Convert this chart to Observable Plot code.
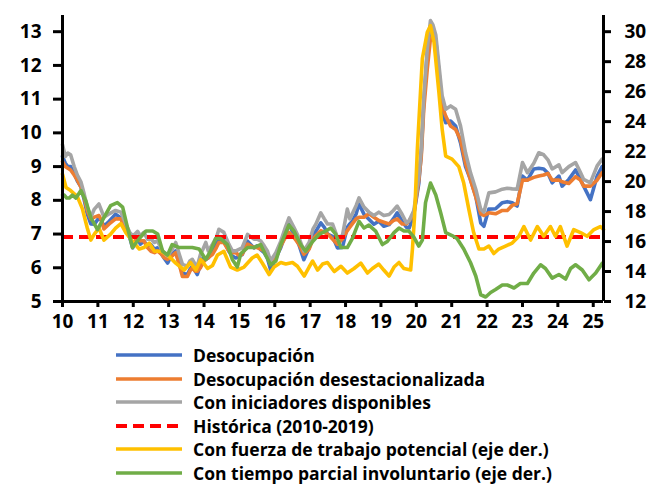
<!DOCTYPE html>
<html><head><meta charset="utf-8">
<script src="https://cdn.jsdelivr.net/npm/d3@7"></script>
<script src="https://cdn.jsdelivr.net/npm/@observablehq/plot@0.6"></script>
<style>
html,body{margin:0;padding:0;background:#fff;}
body{width:653px;height:484px;overflow:hidden;font-family:"Open Sans",sans-serif;}
#legend{position:relative;width:653px;height:149px;}
.row{position:absolute;left:116px;display:flex;align-items:center;height:24px;}
.row svg{display:block;margin-right:11px;}
.row span{font-weight:700;color:#000;white-space:nowrap;}
</style></head><body>
<div id="chart"></div>
<div id="legend"></div>
<script>
// ---- Data (decimal years: 10 = 2010) ----
const fechasDesoc = [10.0,10.08,10.15,10.23,10.33,10.42,10.52,10.61,10.7,10.8,10.9,11.03,11.1,11.17,11.32,11.5,11.65,11.79,11.9,11.98,12.05,12.12,12.2,12.3,12.4,12.5,12.6,12.68,12.8,12.87,12.97,13.1,13.2,13.3,13.39,13.53,13.6,13.67,13.75,13.81,13.9,13.97,14.05,14.12,14.24,14.35,14.42,14.56,14.7,14.8,14.9,15.0,15.08,15.23,15.41,15.5,15.6,15.7,15.79,15.88,16.03,16.17,16.3,16.4,16.54,16.68,16.82,16.97,17.08,17.16,17.3,17.4,17.49,17.63,17.77,17.91,18.05,18.12,18.19,18.3,18.38,18.52,18.66,18.8,18.94,19.08,19.23,19.35,19.46,19.6,19.72,19.8,19.93,20.07,20.14,20.21,20.31,20.4,20.47,20.55,20.64,20.73,20.83,20.97,21.11,21.25,21.39,21.53,21.68,21.82,21.91,22.05,22.24,22.43,22.57,22.71,22.85,23.0,23.14,23.32,23.46,23.6,23.72,23.84,24.03,24.12,24.31,24.5,24.64,24.73,24.92,25.11,25.25];
const desocupacion = [9.3,9.1,9.0,9.0,8.8,8.57,8.4,8.03,7.6,7.3,7.29,7.48,7.4,7.23,7.38,7.59,7.48,7.14,6.9,6.59,6.75,6.88,6.7,6.79,6.65,6.69,6.55,6.59,6.4,6.29,6.14,6.4,6.5,6.1,5.84,5.8,5.95,6.04,5.9,5.8,6.1,6.29,6.25,6.29,6.49,6.7,6.84,6.8,6.49,6.35,6.29,6.35,6.39,6.79,6.59,6.65,6.54,6.45,6.29,5.95,6.29,6.6,7.0,7.29,6.99,6.69,6.24,6.59,6.95,7.08,7.33,7.2,7.0,6.93,6.59,6.6,7.2,7.3,7.38,7.6,7.89,7.59,7.44,7.29,7.38,7.23,7.28,7.45,7.63,7.38,7.2,7.18,7.59,8.5,9.4,10.9,12.4,13.18,13.0,12.75,11.8,10.6,10.3,10.35,10.2,9.7,9.0,8.62,8.12,7.33,7.23,7.74,7.75,7.93,7.96,7.93,7.83,8.72,8.6,8.93,8.95,8.93,8.8,8.52,8.72,8.42,8.62,8.9,8.62,8.42,8.02,8.72,9.0];
const desestacionalizada = [9.15,9.0,8.95,8.9,8.75,8.6,8.4,8.1,7.7,7.45,7.5,7.55,7.4,7.15,7.3,7.45,7.45,7.1,6.95,6.7,6.8,6.85,6.8,6.8,6.6,6.49,6.45,6.5,6.4,6.3,6.25,6.35,6.45,6.1,5.74,5.74,5.9,6.0,5.9,5.9,6.0,6.15,6.25,6.3,6.4,6.6,6.75,6.75,6.5,6.45,6.45,6.35,6.4,6.7,6.6,6.6,6.55,6.5,6.35,6.1,6.3,6.65,6.9,7.05,6.9,6.7,6.4,6.55,6.85,6.95,7.1,7.05,7.0,6.85,6.7,6.85,7.1,7.2,7.3,7.45,7.5,7.5,7.6,7.5,7.4,7.35,7.3,7.4,7.45,7.3,7.3,7.4,7.6,8.6,9.3,10.7,11.9,12.8,12.85,12.6,11.8,10.8,10.5,10.2,10.1,9.8,9.1,8.6,8.1,7.6,7.55,7.63,7.6,7.7,7.7,7.85,7.9,8.6,8.6,8.68,8.72,8.75,8.8,8.6,8.6,8.55,8.5,8.7,8.6,8.42,8.42,8.6,8.82];
const iniciadores = [9.65,9.3,9.4,9.35,9.0,8.75,8.55,8.2,7.8,7.5,7.74,7.89,7.7,7.5,7.6,7.7,7.65,7.3,7.05,6.95,7.0,7.08,6.95,7.05,6.85,6.85,6.75,6.8,6.55,6.45,6.35,6.55,6.75,6.4,6.1,6.05,6.2,6.25,6.1,6.05,6.4,6.55,6.75,6.5,6.7,6.9,7.14,7.05,6.7,6.5,6.5,6.55,6.6,6.99,6.85,6.85,6.8,6.65,6.5,6.2,6.45,6.79,7.2,7.48,7.2,6.9,6.5,6.75,7.15,7.29,7.63,7.45,7.3,7.3,6.9,6.95,7.74,7.45,7.6,7.85,8.07,7.8,7.65,7.55,7.65,7.55,7.58,7.7,7.83,7.58,7.33,7.4,7.7,8.72,9.5,11.0,12.5,13.33,13.2,12.9,12.0,11.1,10.7,10.8,10.7,10.2,9.41,8.82,8.33,7.74,7.65,8.22,8.25,8.33,8.36,8.34,8.33,9.12,8.82,9.1,9.41,9.35,9.2,8.93,9.05,8.82,9.0,9.12,8.82,8.62,8.52,9.02,9.22];
const historica = 6.91;

const fechasPotencial = [10.0,10.1,10.23,10.42,10.56,10.7,10.8,10.9,11.03,11.17,11.36,11.5,11.65,11.79,11.98,12.17,12.3,12.45,12.6,12.78,12.97,13.2,13.44,13.62,13.77,13.91,14.1,14.24,14.38,14.56,14.75,14.94,15.13,15.36,15.5,15.65,15.84,15.98,16.17,16.31,16.5,16.64,16.83,16.97,17.07,17.21,17.35,17.49,17.68,17.87,18.05,18.24,18.43,18.62,18.76,18.94,19.08,19.23,19.37,19.51,19.65,19.84,19.89,19.95,20.03,20.17,20.31,20.4,20.5,20.64,20.73,20.83,21.01,21.2,21.34,21.48,21.62,21.77,21.91,22.05,22.19,22.33,22.52,22.71,22.9,23.04,23.23,23.42,23.6,23.79,23.93,24.07,24.26,24.45,24.64,24.83,25.02,25.2,25.29];
const potencial = [20.5,19.6,19.4,19.0,18.2,16.9,16.1,16.5,16.9,16.1,16.5,16.9,17.2,16.6,16.0,15.5,15.6,15.9,15.35,15.35,15.1,14.56,14.1,14.6,14.1,14.8,14.2,14.4,15.1,15.35,14.3,14.1,14.3,14.9,15.1,14.55,13.8,14.3,14.6,14.5,14.6,14.35,13.7,14.3,14.7,14.1,14.5,14.6,14.0,14.35,13.9,14.2,14.56,13.9,14.2,14.5,14.1,13.7,14.3,14.6,14.2,14.1,15.5,17.7,22.2,28.2,29.96,30.4,29.3,25.9,23.5,21.7,21.5,21.0,19.9,18.2,16.6,15.5,15.5,15.7,15.2,15.5,15.7,15.9,16.35,17.0,16.1,17.0,16.35,17.0,16.35,17.0,15.7,16.8,16.6,16.35,16.8,17.0,16.8];

const fechasParcial = [10.0,10.05,10.12,10.19,10.28,10.38,10.52,10.66,10.8,10.99,11.17,11.36,11.55,11.7,11.84,11.98,12.17,12.36,12.55,12.69,12.83,12.97,13.1,13.3,13.48,13.67,13.86,14.05,14.19,14.33,14.47,14.66,14.8,14.94,15.04,15.23,15.41,15.6,15.74,15.88,16.03,16.17,16.4,16.54,16.73,16.87,17.07,17.26,17.44,17.58,17.72,17.87,18.05,18.19,18.38,18.52,18.66,18.85,19.04,19.18,19.37,19.51,19.65,19.79,19.93,20.07,20.17,20.26,20.4,20.55,20.69,20.83,21.01,21.15,21.34,21.53,21.68,21.82,21.96,22.1,22.24,22.43,22.57,22.76,22.94,23.14,23.32,23.51,23.65,23.84,24.03,24.22,24.36,24.5,24.69,24.88,25.07,25.26];
const parcial = [19.1,19.1,18.9,18.9,19.1,18.9,19.4,18.7,17.6,16.8,17.6,18.4,18.6,18.3,16.9,15.6,16.2,16.7,16.7,16.5,15.35,15.1,15.8,15.6,15.6,15.6,15.5,14.8,15.4,16.2,16.2,15.8,14.8,14.3,15.2,15.6,15.6,15.8,15.1,14.45,14.7,15.8,17.1,16.7,15.8,15.35,16.0,16.5,16.7,16.9,16.5,15.6,15.6,16.2,17.35,16.9,17.1,16.7,15.8,16.0,16.6,16.9,16.7,16.7,16.3,15.7,16.1,18.6,19.9,19.1,17.9,16.6,16.4,16.2,15.5,14.6,13.7,12.45,12.3,12.6,12.8,13.1,13.1,12.9,13.2,13.2,13.9,14.45,14.2,13.56,13.8,13.5,14.2,14.45,14.1,13.45,13.9,14.56];

const ticksX = [10,11,12,13,14,15,16,17,18,19,20,21,22,23,24,25];
const ticksIzq = [5,6,7,8,9,10,11,12,13];
const ticksDer = [12,14,16,18,20,22,24,26,28,30];

const series = [
  {nombre: "Desocupación", color: "#4472C4"},
  {nombre: "Desocupación desestacionalizada", color: "#ED7D31"},
  {nombre: "Con iniciadores disponibles", color: "#A5A5A5"},
  {nombre: "Histórica (2010-2019)", color: "#FF0000", dash: true},
  {nombre: "Con fuerza de trabajo potencial (eje der.)", color: "#FFC000"},
  {nombre: "Con tiempo parcial involuntario (eje der.)", color: "#70AD47"}
];

// ---- Build ----
const FONT = "'Open Sans', sans-serif";
const yMin = 5, yMax = 13.48, rMin = 12, rMax = 30;
const toIzq = r => yMin + (r - rMin) * 8 / 18;
const toDer = v => rMin + (v - yMin) * 18 / 8;
const xEnd = 25.29;

const mk = (fechas, vals, f = d => d) => fechas.map((t, i) => ({t, v: f(vals[i])}));
const dBlue = mk(fechasDesoc, desocupacion);
const dOrange = mk(fechasDesoc, desestacionalizada);
const dGray = mk(fechasDesoc, iniciadores);
const dYellow = mk(fechasPotencial, potencial, toIzq);
const dGreen = mk(fechasParcial, parcial, toIzq);

const lineOpts = (color) => ({x: "t", y: "v", stroke: color, strokeWidth: 3.6, strokeLinejoin: "round", strokeLinecap: "round"});

const chart = Plot.plot({
  width: 653, height: 335,
  marginLeft: 62, marginRight: 50, marginTop: 15, marginBottom: 34,
  style: {fontFamily: FONT, fontWeight: "700", fontSize: "19px", color: "#000", background: "#fff", overflow: "visible"},
  x: {domain: [10, xEnd]},
  y: {domain: [yMin, yMax]},
  marks: [
    Plot.line(dBlue, lineOpts(series[0].color)),
    Plot.line(dOrange, lineOpts(series[1].color)),
    Plot.line(dGray, lineOpts(series[2].color)),
    Plot.ruleY([historica], {x1: 10, x2: xEnd, stroke: series[3].color, strokeWidth: 4, strokeDasharray: "11,6"}),
    Plot.line(dYellow, lineOpts(series[4].color)),
    Plot.line(dGreen, lineOpts(series[5].color)),
    Plot.ruleX([10], {y1: yMin, y2: yMax, stroke: "#000", strokeWidth: 3}),
    Plot.ruleX([xEnd], {y1: yMin, y2: yMax, stroke: "#000", strokeWidth: 3}),
    Plot.ruleY([yMin], {x1: 10, x2: xEnd, stroke: "#000", strokeWidth: 3}),
    Plot.axisY({anchor: "left", ticks: ticksIzq, tickSize: 9, tickPadding: 12, strokeWidth: 3, label: null, fontSize: 19, fontWeight: 700, fill: "#000"}),
    Plot.axisY({anchor: "right", ticks: ticksDer.map(toIzq), tickFormat: v => Math.round(toDer(v)), tickSize: 7, tickPadding: 14, strokeWidth: 3, label: null, fontSize: 19, fontWeight: 700, fill: "#000"}),
    Plot.axisX({anchor: "bottom", ticks: ticksX, tickFormat: d => String(d), tickSize: 6, tickPadding: 7, strokeWidth: 3, label: null, fontSize: 19, fontWeight: 700, fill: "#000"})
  ]
});
document.getElementById("chart").appendChild(chart);

// ---- Legend ----
const cv = document.createElement("canvas").getContext("2d");
let fs = 16;
for (let s = 12; s <= 20; s += 0.25) {
  cv.font = `700 ${s}px 'Open Sans'`;
  if (cv.measureText(series[1].nombre).width <= 294) fs = s;
}
const legend = document.getElementById("legend");
series.forEach((s, i) => {
  const row = document.createElement("div");
  row.className = "row";
  row.style.top = (8 + i * 23.6) + "px";
  const svg = d3.create("svg").attr("width", 66).attr("height", 8);
  svg.append("line").attr("x1", 0).attr("x2", 66).attr("y1", 4).attr("y2", 4)
    .attr("stroke", s.color).attr("stroke-width", s.dash ? 4 : 3.6)
    .attr("stroke-dasharray", s.dash ? "11,6" : null);
  row.appendChild(svg.node());
  const sp = document.createElement("span");
  sp.textContent = s.nombre;
  sp.style.fontSize = fs + "px";
  sp.style.fontFamily = FONT;
  row.appendChild(sp);
  legend.appendChild(row);
});
</script></body></html>
